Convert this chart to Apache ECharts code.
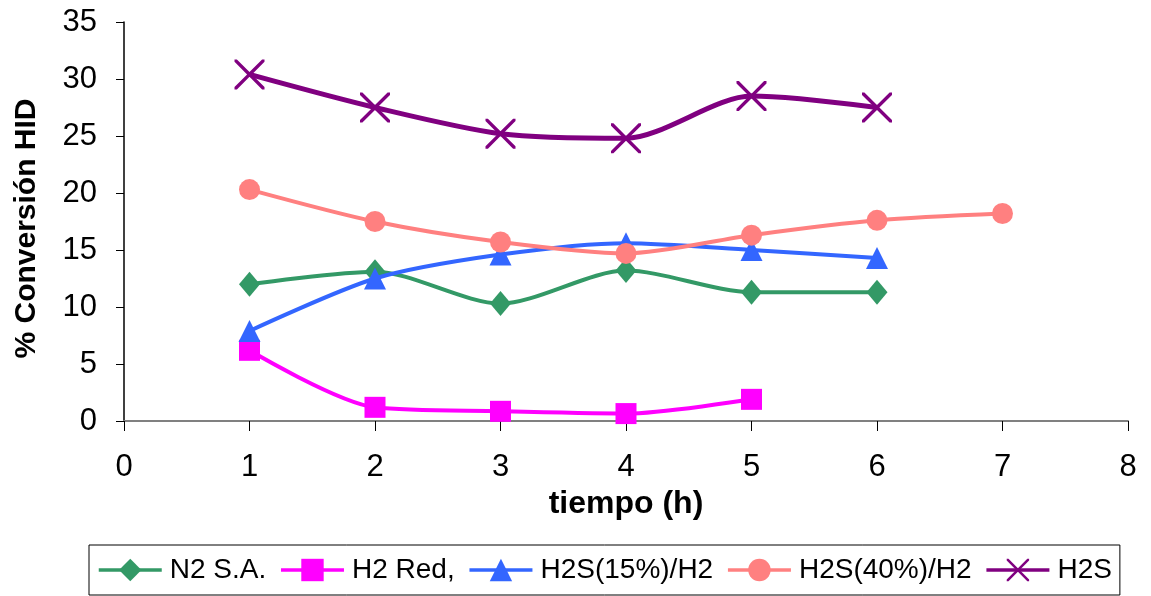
<!DOCTYPE html>
<html>
<head>
<meta charset="utf-8">
<script src="https://cdn.jsdelivr.net/npm/echarts@6/dist/echarts.min.js"></script>
<style>
html,body{margin:0;padding:0;background:#fff;}
#chart{width:1151px;height:596px;}
</style>
</head>
<body>
<div id="chart"></div>
<script>
// Data
const seriesNames = ['N2 S.A.', 'H2 Red,', 'H2S(15%)/H2', 'H2S(40%)/H2', 'H2S'];
const timeN2 = [1, 2, 3, 4, 5, 6];
const valN2 = [12.0, 13.1, 10.3, 13.2, 11.3, 11.3];
const timeH2Red = [1, 2, 3, 4, 5];
const valH2Red = [6.2, 1.2, 0.85, 0.65, 1.9];
const timeH2S15 = [1, 2, 3, 4, 5, 6];
const valH2S15 = [7.9, 12.5, 14.6, 15.6, 15.0, 14.3];
const timeH2S40 = [1, 2, 3, 4, 5, 6, 7];
const valH2S40 = [20.3, 17.5, 15.7, 14.7, 16.3, 17.6, 18.2];
const timeH2S = [1, 2, 3, 4, 5, 6];
const valH2S = [30.4, 27.5, 25.2, 24.8, 28.5, 27.5];
const xTicks = [0, 1, 2, 3, 4, 5, 6, 7, 8];
const yTicks = [0, 5, 10, 15, 20, 25, 30, 35];

const colors = ['#339966', '#FF00FF', '#3366FF', '#FF8080', '#800080'];
const xPath = 'path://M0,0L0.8,0L5,4.2L9.2,0L10,0L10,0.8L5.8,5L10,9.2L10,10L9.2,10L5,5.8L0.8,10L0,10L0,9.2L4.2,5L0,0.8Z';
const symbols = ['diamond', 'rect', 'triangle', 'circle', xPath];
const symbolSizes = [[21, 25], 21, 22, 21, 30];
const times = [timeN2, timeH2Red, timeH2S15, timeH2S40, timeH2S];
const vals = [valN2, valH2Red, valH2S15, valH2S40, valH2S];
const widths = [4, 4, 4, 4, 5];

const FONT = 'Liberation Sans, Arial, sans-serif';

const series = seriesNames.map((n, i) => ({
  name: n,
  type: 'line',
  data: times[i].map((t, k) => [t, vals[i][k]]),
  smooth: 0.28,
  symbol: symbols[i],
  symbolSize: symbolSizes[i],
  showAllSymbol: true,
  lineStyle: { color: colors[i], width: widths[i] },
  itemStyle: { color: colors[i] },
  emphasis: { disabled: true },
  animation: false,
  z: 2 + i
}));

const chart = echarts.init(document.getElementById('chart'), null, { renderer: 'canvas' });
chart.setOption({
  backgroundColor: '#ffffff',
  animation: false,
  color: colors,
  grid: { left: 124, right: 23, top: 22, bottom: 175, containLabel: false },
  xAxis: {
    type: 'value', min: xTicks[0], max: xTicks[xTicks.length - 1], interval: 1,
    name: 'tiempo (h)', nameLocation: 'middle', nameGap: 66,
    nameTextStyle: { fontFamily: FONT, fontWeight: 'bold', fontSize: 32, color: '#000' },
    axisLine: { show: true, onZero: false, lineStyle: { color: '#808080', width: 2 } },
    axisTick: { show: true, inside: false, length: 10, lineStyle: { color: '#000', width: 1 } },
    axisLabel: { fontFamily: FONT, fontSize: 31, color: '#000', margin: 31 },
    splitLine: { show: false }
  },
  yAxis: {
    type: 'value', min: yTicks[0], max: yTicks[yTicks.length - 1], interval: 5,
    name: '% Conversión HID', nameLocation: 'middle', nameGap: 82, nameRotate: 90,
    nameTextStyle: { fontFamily: FONT, fontWeight: 'bold', fontSize: 30, color: '#000', padding: [0, 14, 0, 0] },
    axisLine: { show: true, onZero: false, lineStyle: { color: '#000', width: 1.5 } },
    axisTick: { show: true, inside: false, length: 8, lineStyle: { color: '#000', width: 1 } },
    axisLabel: { fontFamily: FONT, fontSize: 31, color: '#000', margin: 27 },
    splitLine: { show: false }
  },
  legend: {
    show: true,
    left: 89, bottom: 1,
    orient: 'horizontal',
    borderColor: '#000', borderWidth: 1,
    padding: [11, 8, 11, 8],
    itemWidth: 63, itemHeight: 28, itemGap: 13,
    lineStyle: { width: 3.5 },
    textStyle: { fontFamily: FONT, fontSize: 28, color: '#000', padding: [0, 0, 0, 3] },
    data: seriesNames,
    selectedMode: false
  },
  series: series
});
</script>
</body>
</html>
